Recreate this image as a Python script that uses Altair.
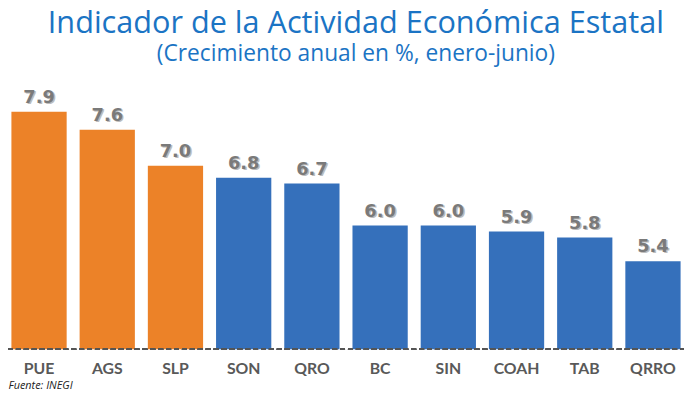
import altair as alt
import pandas as pd

# Data
estados = ["PUE", "AGS", "SLP", "SON", "QRO", "BC", "SIN", "COAH", "TAB", "QRRO"]
valores = [7.9, 7.6, 7.0, 6.8, 6.7, 6.0, 6.0, 5.9, 5.8, 5.4]
grupo = ["top", "top", "top", "resto", "resto", "resto", "resto", "resto", "resto", "resto"]

titulo = "Indicador de la Actividad Económica Estatal"
subtitulo = "(Crecimiento anual en %, enero-junio)"
fuente = "Fuente: INEGI"

df = pd.DataFrame({"estado": estados, "valor": valores, "grupo": grupo})

BASE = 3.93
W, H = 684, 271
TOP = BASE + H / 60.5

xenc = alt.X(
    "estado:N", sort=estados,
    scale=alt.Scale(paddingInner=0.19, paddingOuter=0.05),
    axis=alt.Axis(
        title=fuente, titleAnchor="start", titleAlign="left", titleX=0, titleY=40,
        titleFont="Open Sans", titleFontSize=11, titleFontStyle="italic", titleFontWeight="normal",
        titleColor="#222222", titleBaseline="alphabetic",
        labelFont="Lato", labelFontSize=16, labelFontWeight="bold", labelColor="#595959",
        labelPadding=12, labelAngle=0, domain=False, ticks=False,
    ),
)
yscale = alt.Scale(domain=[BASE, TOP], nice=False, zero=False)
yenc = alt.Y("valor:Q", scale=yscale, axis=None)

base = alt.Chart(df).encode(x=xenc)

bars = base.mark_bar(clip=True).encode(
    y=yenc, y2=alt.value(H),
    color=alt.Color("grupo:N", scale=alt.Scale(domain=["top", "resto"], range=["#ec8228", "#3570bb"]),
                    legend=None),
)

shadow = base.mark_text(
    font="DejaVu Sans", fontSize=18, fontWeight="bold", color="#bdbdbd",
    baseline="alphabetic", dy=-8, dx=1.5,
).encode(y=yenc, text=alt.Text("valor:Q", format=".1f"))
labels = base.mark_text(
    font="DejaVu Sans", fontSize=18, fontWeight="bold", color="#7a7a7a",
    baseline="alphabetic", dy=-9,
).encode(y=yenc, text=alt.Text("valor:Q", format=".1f"))

rule = alt.Chart(df).mark_rule(color="#555555", strokeDash=[5, 3], strokeWidth=1.3).encode(
    y=alt.value(H), x=alt.value(-8), x2=alt.value(W)
)

chart = alt.layer(bars, rule, shadow, labels).properties(
    width=W, height=H,
    title=alt.TitleParams(
        text=titulo, subtitle=subtitulo, anchor="middle", dx=10,
        font="Open Sans", fontSize=31, fontWeight="normal", color="#1b74c4",
        subtitleFont="Open Sans", subtitleFontSize=23, subtitleColor="#1b74c4",
        subtitlePadding=3, offset=15,
    ),
    autosize=alt.AutoSizeParams(type="none"),
    padding={"left": 0, "top": 72, "right": 0, "bottom": 42},
).configure_view(stroke=None)

chart.save("out.html", embed_options={"renderer": "svg", "actions": False})
